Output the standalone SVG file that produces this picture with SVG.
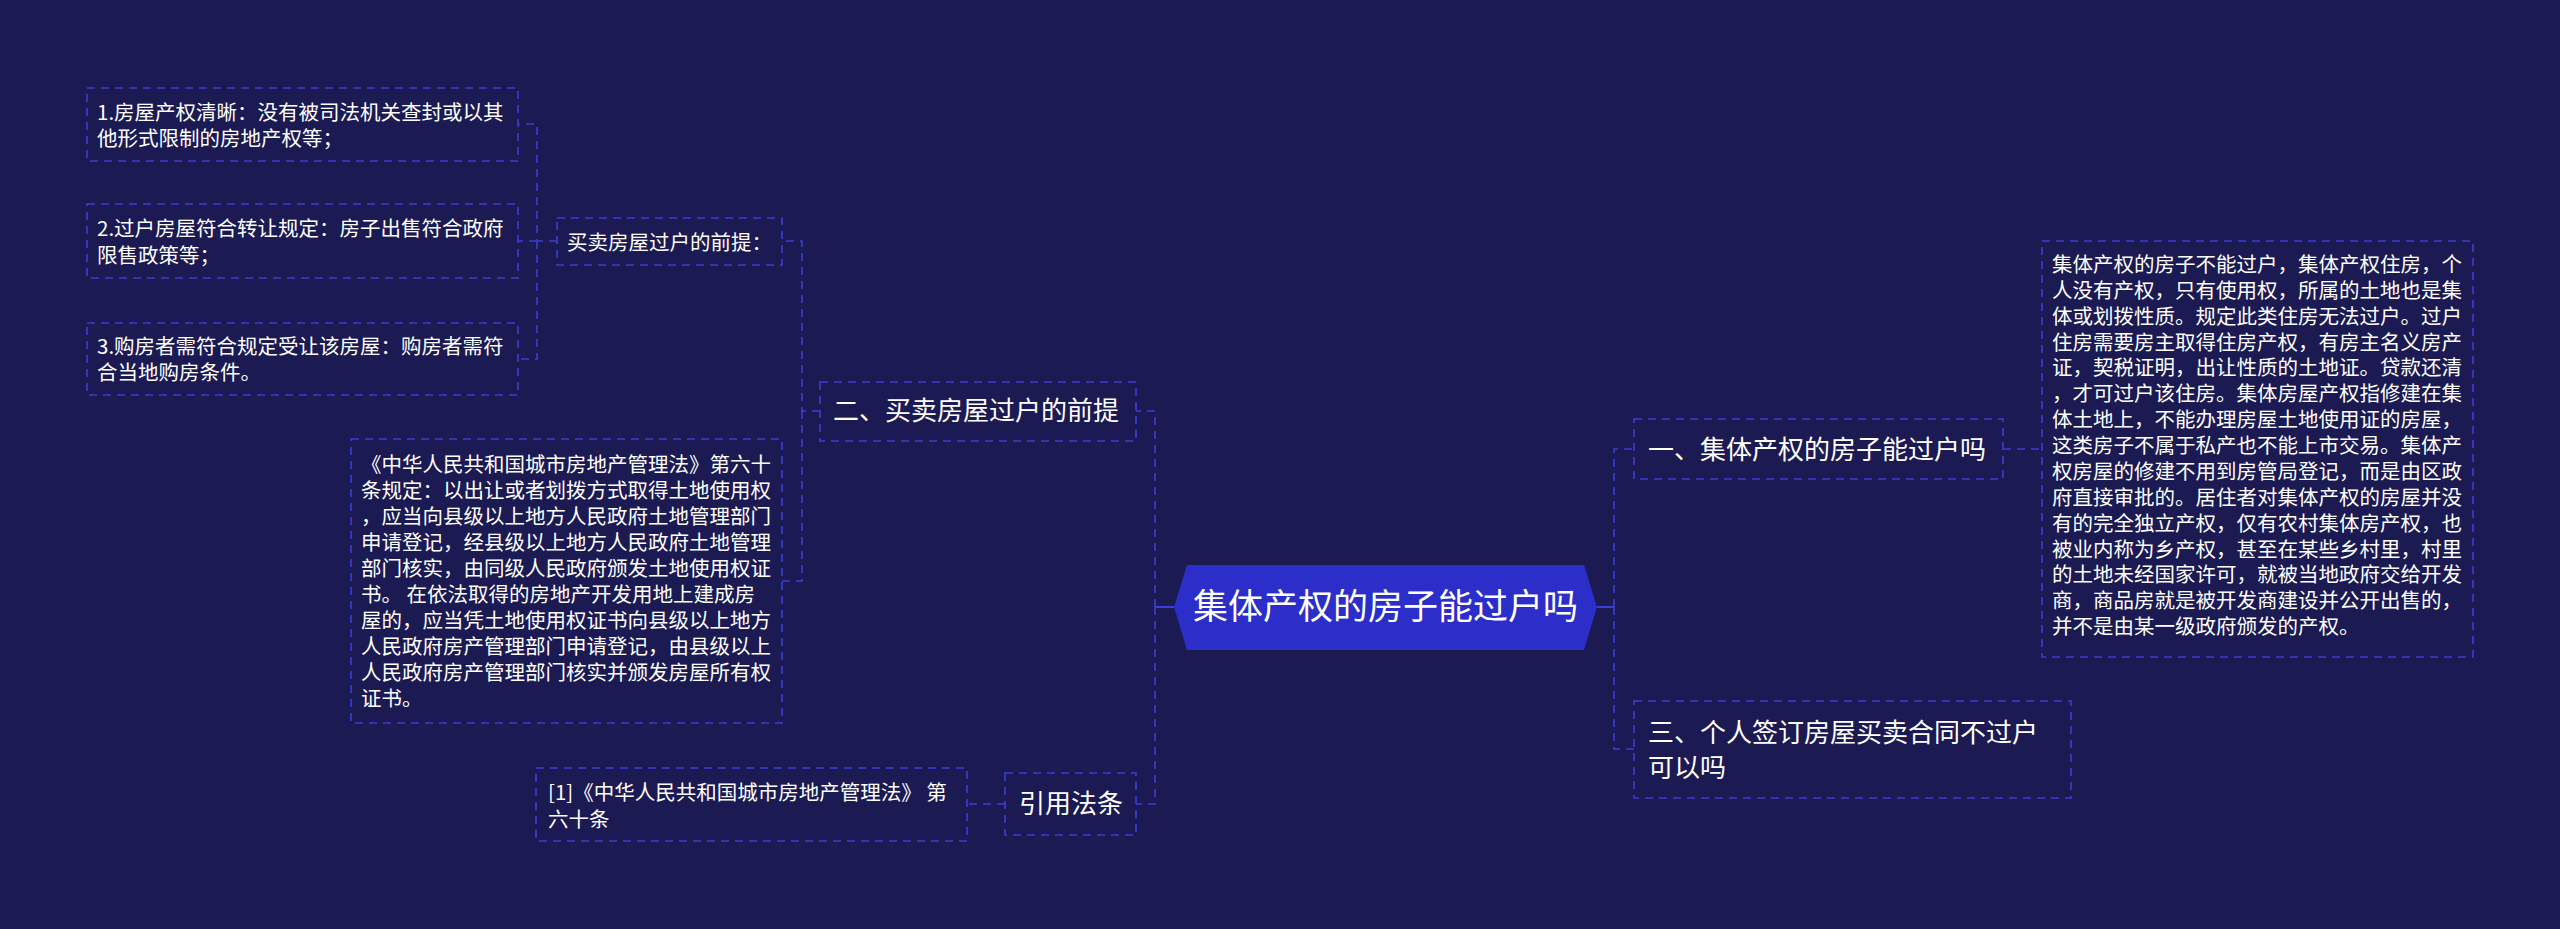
<svg xmlns="http://www.w3.org/2000/svg" width="2560" height="929" viewBox="0 0 2560 929">
<defs>
<style>
.bg{fill:#1b1a52}
.box{fill:#1b1a52;stroke:#3b3ed6;stroke-width:1.6;stroke-dasharray:8 6}
.ln{fill:none;stroke:#3b3ed6;stroke-width:1.6;stroke-dasharray:8 6}
.sl{fill:none;stroke:#3b3ed6;stroke-width:2}
.t{font-family:"Noto Sans CJK SC","Noto Sans",sans-serif;fill:#ffffff}
.s{font-size:20.5px}
.m{font-size:26px}
.c{font-size:35px}
</style>
</defs>
<rect class="bg" x="0" y="0" width="2560" height="929"/>
<g id="connectors">
<path class="sl" d="M1174,607 H1155"/>
<path class="ln" d="M1155,607 V411 H1136"/>
<path class="ln" d="M1155,607 V804 H1136"/>
<path class="sl" d="M1597,607 H1614"/>
<path class="ln" d="M1614,607 V449 H1634"/>
<path class="ln" d="M1614,607 V749 H1634"/>
<path class="ln" d="M2003,449 H2042"/>
<path class="ln" d="M820,411 H802 V241 H782"/>
<path class="ln" d="M802,411 V581 H782"/>
<path class="ln" d="M557,241 H537 V124 H518"/>
<path class="ln" d="M537,241 H518"/>
<path class="ln" d="M537,241 V359 H518"/>
<path class="ln" d="M1005,804 H967"/>
</g>
<g id="center">
<polygon points="1174,607 1187,565 1584,565 1597,607 1584,650 1187,650" fill="#2b2ec8"/>
<text class="t c" x="1385.5" y="619" text-anchor="middle">集体产权的房子能过户吗</text>
</g>
<g id="n-two">
<rect class="box" x="820" y="382" width="316" height="59"/>
<text class="t m" x="833" y="420">二、买卖房屋过户的前提</text>
</g>
<g id="n-premise">
<rect class="box" x="557" y="218" width="225" height="47"/>
<text class="t s" x="567" y="250">买卖房屋过户的前提：</text>
</g>
<g id="n-p1">
<rect class="box" x="87" y="88" width="431" height="73"/>
<text class="t s" x="97" y="120">1.房屋产权清晰：没有被司法机关查封或以其</text>
<text class="t s" x="97" y="146">他形式限制的房地产权等；</text>
</g>
<g id="n-p2">
<rect class="box" x="87" y="204" width="431" height="74"/>
<text class="t s" x="97" y="236">2.过户房屋符合转让规定：房子出售符合政府</text>
<text class="t s" x="97" y="263">限售政策等；</text>
</g>
<g id="n-p3">
<rect class="box" x="87" y="323" width="431" height="72"/>
<text class="t s" x="97" y="354">3.购房者需符合规定受让该房屋：购房者需符</text>
<text class="t s" x="97" y="380">合当地购房条件。</text>
</g>
<g id="n-law">
<rect class="box" x="351" y="439" width="431" height="284"/>
<text class="t s" x="361" y="472">《中华人民共和国城市房地产管理法》第六十</text>
<text class="t s" x="361" y="498">条规定：以出让或者划拨方式取得土地使用权</text>
<text class="t s" x="361" y="524">，应当向县级以上地方人民政府土地管理部门</text>
<text class="t s" x="361" y="550">申请登记，经县级以上地方人民政府土地管理</text>
<text class="t s" x="361" y="576">部门核实，由同级人民政府颁发土地使用权证</text>
<text class="t s" x="361" y="602">书。 在依法取得的房地产开发用地上建成房</text>
<text class="t s" x="361" y="628">屋的，应当凭土地使用权证书向县级以上地方</text>
<text class="t s" x="361" y="654">人民政府房产管理部门申请登记，由县级以上</text>
<text class="t s" x="361" y="680">人民政府房产管理部门核实并颁发房屋所有权</text>
<text class="t s" x="361" y="706">证书。</text>
</g>
<g id="n-cite">
<rect class="box" x="1005" y="773" width="131" height="62"/>
<text class="t m" x="1019" y="813">引用法条</text>
</g>
<g id="n-cite-ref">
<rect class="box" x="536" y="768" width="431" height="73"/>
<text class="t s" x="548" y="800">[1]《中华人民共和国城市房地产管理法》 第</text>
<text class="t s" x="548" y="827">六十条</text>
</g>
<g id="n-one">
<rect class="box" x="1634" y="419" width="369" height="60"/>
<text class="t m" x="1648" y="459">一、集体产权的房子能过户吗</text>
</g>
<g id="n-one-text">
<rect class="box" x="2042" y="241" width="431" height="416"/>
<text class="t s" x="2052" y="272">集体产权的房子不能过户，集体产权住房，个</text>
<text class="t s" x="2052" y="298">人没有产权，只有使用权，所属的土地也是集</text>
<text class="t s" x="2052" y="324">体或划拨性质。规定此类住房无法过户。过户</text>
<text class="t s" x="2052" y="350">住房需要房主取得住房产权，有房主名义房产</text>
<text class="t s" x="2052" y="375">证，契税证明，出让性质的土地证。贷款还清</text>
<text class="t s" x="2052" y="401">，才可过户该住房。集体房屋产权指修建在集</text>
<text class="t s" x="2052" y="427">体土地上，不能办理房屋土地使用证的房屋，</text>
<text class="t s" x="2052" y="453">这类房子不属于私产也不能上市交易。集体产</text>
<text class="t s" x="2052" y="479">权房屋的修建不用到房管局登记，而是由区政</text>
<text class="t s" x="2052" y="505">府直接审批的。居住者对集体产权的房屋并没</text>
<text class="t s" x="2052" y="531">有的完全独立产权，仅有农村集体房产权，也</text>
<text class="t s" x="2052" y="557">被业内称为乡产权，甚至在某些乡村里，村里</text>
<text class="t s" x="2052" y="582">的土地未经国家许可，就被当地政府交给开发</text>
<text class="t s" x="2052" y="608">商，商品房就是被开发商建设并公开出售的，</text>
<text class="t s" x="2052" y="634">并不是由某一级政府颁发的产权。</text>
</g>
<g id="n-three">
<rect class="box" x="1634" y="701" width="437" height="97"/>
<text class="t m" x="1648" y="742">三、个人签订房屋买卖合同不过户</text>
<text class="t m" x="1648" y="777">可以吗</text>
</g>
</svg>
